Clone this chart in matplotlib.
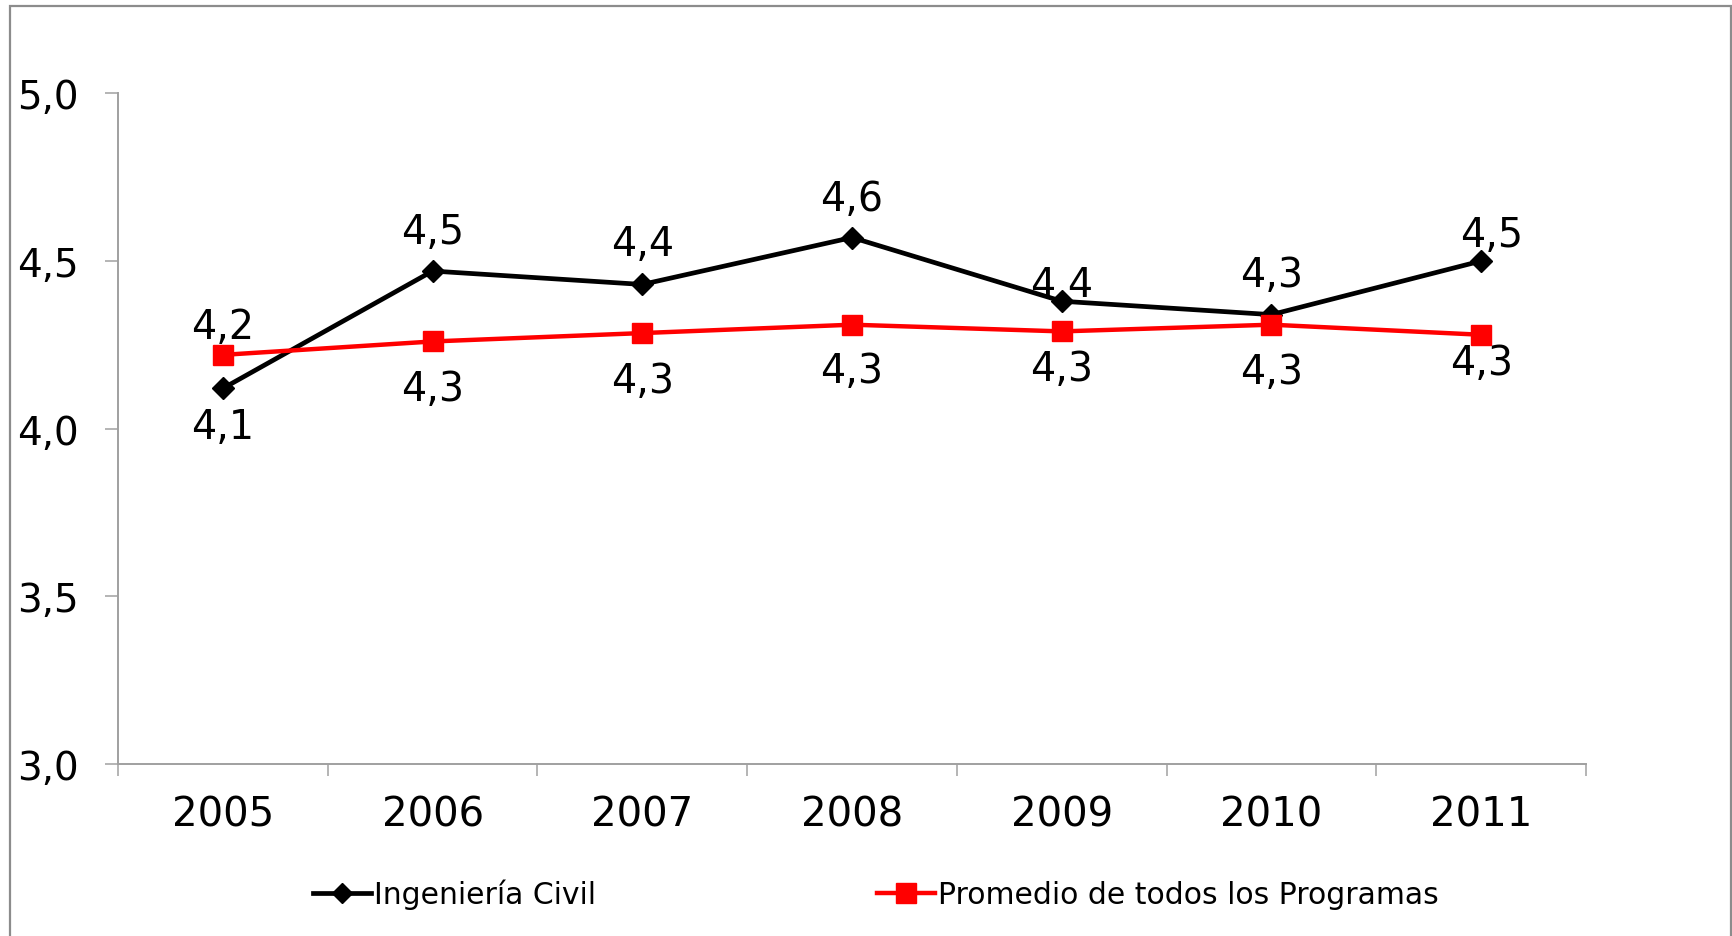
import matplotlib
matplotlib.use("Agg")
import matplotlib.pyplot as plt
from matplotlib.patches import Rectangle
from matplotlib.ticker import FixedLocator, FuncFormatter

# ---- data ----
years = ["2005", "2006", "2007", "2008", "2009", "2010", "2011"]
civil = [4.12, 4.47, 4.43, 4.57, 4.38, 4.34, 4.50]
promedio = [4.22, 4.26, 4.285, 4.31, 4.29, 4.31, 4.28]
series_names = ["Ingeniería Civil", "Promedio de todos los Programas"]
y_ticks = [3.0, 3.5, 4.0, 4.5, 5.0]

# label placement (pixel offset of text centre from marker, down positive)
civil_lab_dy = [35, -42, -44, -42, -20, -43, -29]
civil_lab_dx = [0, 0, 0, 0, 0, 0, 10]
prom_lab_dy = [-31, 44, 44, 43, 34, 44, 25]
prom_lab_dx = [0, 0, 0, 0, 0, 0, 0]

plt.rcParams['font.family'] = ['DejaVu Sans']

W, H = 1733, 937
fig = plt.figure(figsize=(W / 100, H / 100), dpi=100)
ax = fig.add_axes([118 / W, 1 - 765 / H, (1586 - 118) / W, (765 - 94.3) / H])

x = list(range(len(years)))
l1, = ax.plot(x, civil, color='black', lw=3.4, marker='D', ms=11,
              markerfacecolor='black', markeredgecolor='black', zorder=3,
              label=series_names[0])
l2, = ax.plot(x, promedio, color='#FF0000', lw=3.2, marker='s', ms=14.5,
              markerfacecolor='#FF0000', markeredgecolor='#FF0000', zorder=3,
              label=series_names[1])

ax.set_xlim(-0.5, len(years) - 0.5)
ax.set_ylim(3.0, 5.0)

axis_gray = '#A0A0A0'
for s in ['top', 'right']:
    ax.spines[s].set_visible(False)
for s in ['left', 'bottom']:
    ax.spines[s].set_color(axis_gray)
    ax.spines[s].set_linewidth(1.4)

ax.set_yticks(y_ticks)
ax.yaxis.set_major_formatter(FuncFormatter(lambda v, p: f"{v:.1f}".replace('.', ',')))
ax.tick_params(axis='y', length=9.4, width=1.1, color=axis_gray, pad=19,
               labelsize=28, labelcolor='black')

ax.set_xticks(x)
ax.set_xticklabels(years)
ax.xaxis.set_minor_locator(FixedLocator([i - 0.5 for i in range(len(years) + 1)]))
ax.tick_params(axis='x', which='major', length=0, pad=22, labelsize=29,
               labelcolor='black')
ax.tick_params(axis='x', which='minor', length=8.9, width=1.1, color=axis_gray)

# data labels
lab_fs = 28.5
cap_half_px = 0.729 * lab_fs * 100 / 72 / 2
def put_labels(vals, dys, dxs):
    for i, v in enumerate(vals):
        txt = f"{v:.1f}".replace('.', ',')
        oy = -(dys[i] + cap_half_px) * 0.72
        ox = dxs[i] * 0.72
        ax.annotate(txt, (i, v), xytext=(ox, oy), textcoords='offset points',
                    ha='center', va='baseline', fontsize=lab_fs, color='black',
                    zorder=4, annotation_clip=False)

put_labels(civil, civil_lab_dy, civil_lab_dx)
put_labels(promedio, prom_lab_dy, prom_lab_dx)

# legend
fig.legend(handles=[l1, l2], loc='center', bbox_to_anchor=(876 / W, 1 - 895 / H),
           ncol=2, frameon=False, fontsize=21.5, handlelength=1.94,
           handletextpad=0.1, columnspacing=9.4, markerscale=0.95)

# outer chart border
fig.patches.append(Rectangle((10 / W, -0.05), (1731 - 10) / W, 1.05 - 7 / H,
                             transform=fig.transFigure, fill=False,
                             edgecolor='#8C8C8C', linewidth=1.6, zorder=0))

fig.savefig("out.png", dpi=100, facecolor='white')
